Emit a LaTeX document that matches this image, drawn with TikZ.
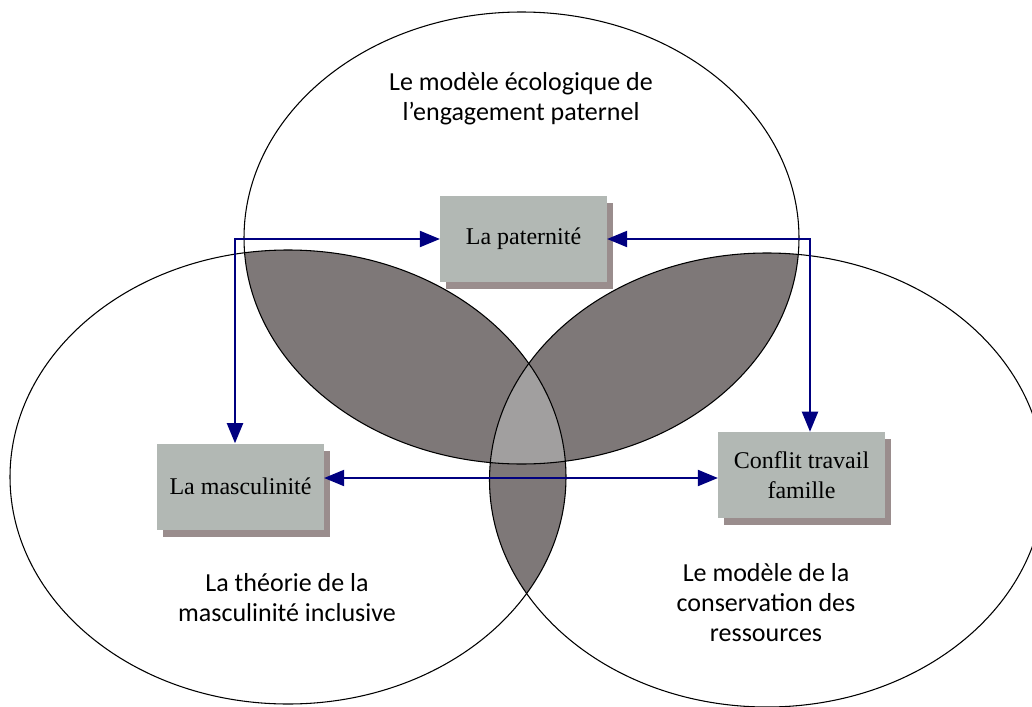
\documentclass[tikz,border=0pt]{standalone}
\usepackage{fontspec}
\setmainfont{Liberation Serif}
\newfontfamily\lblfont{Carlito}
\usetikzlibrary{arrows.meta,shadows}
\definecolor{lensdark}{HTML}{7E7878}
\definecolor{lenslight}{HTML}{A19F9F}
\definecolor{boxfill}{HTML}{B2B8B4}
\definecolor{boxshadow}{HTML}{9A8D8D}
\definecolor{arrowblue}{HTML}{000080}
\tikzset{
  concept/.style={fill=boxfill, draw=none, minimum width=125pt, minimum height=64.5pt,
    inner sep=0pt, align=center, font=\fontsize{18}{22.5}\selectfont,
    drop shadow={shadow xshift=4.5pt, shadow yshift=-5.5pt, fill=boxshadow, opacity=1}},
  lbl/.style={align=center, inner sep=0pt, font=\lblfont\fontsize{19.5}{22.5}\selectfont},
  ring/.style={draw=black, line width=0.8pt},
  conn/.style={draw=arrowblue, line width=1.5pt,
    {Triangle[length=15pt,width=12pt]}-{Triangle[length=15pt,width=12pt]}}
}
\begin{document}
\begin{tikzpicture}[x=0.75pt,y=-0.75pt]
\useasboundingbox (0,0) rectangle (1032,707);
\clip (0,0) rectangle (1032,707);
% shaded lenses
\begin{scope}
  \clip (521.5,238) ellipse [x radius=277.5, y radius=226];
  \fill[lensdark] (288,477) ellipse [x radius=278, y radius=227];
  \fill[lensdark] (767,480) ellipse [x radius=277.5, y radius=227];
\end{scope}
\begin{scope}
  \clip (288,477) ellipse [x radius=278, y radius=227];
  \fill[lensdark] (767,480) ellipse [x radius=277.5, y radius=227];
  \clip (767,480) ellipse [x radius=277.5, y radius=227];
  \fill[lenslight] (521.5,238) ellipse [x radius=277.5, y radius=226];
\end{scope}
% outlines
\draw[ring] (521.5,238) ellipse [x radius=277.5, y radius=226];
\draw[ring] (288,477) ellipse [x radius=278, y radius=227];
\draw[ring] (767,480) ellipse [x radius=277.5, y radius=227];
% labels
\node[lbl] (ltop) at (521,99) {Le modèle écologique de\\l’engagement paternel};
\node[lbl] (lleft) at (287,598) {La théorie de la\\masculinité inclusive};
\node[lbl] (lright) at (766,603) {Le modèle de la\\conservation des\\ressources};
% boxes
\node[concept] (pat) at (523.5,239) {La paternité};
\node[concept] (masc) at (240.5,486.5) {La masculinité};
\node[concept] (conf) at (801.5,475) {Conflit travail\\famille};
% connectors
\coordinate (lc) at (235,240);
\coordinate (rc) at (810,240);
\coordinate (hy) at (0,478);
\draw[conn] (masc.north -| lc) |- (pat.west);
\draw[conn] (conf.north -| rc) |- (pat.east);
\draw[conn] (masc.east |- hy) -- (conf.west |- hy);
\end{tikzpicture}
\end{document}
